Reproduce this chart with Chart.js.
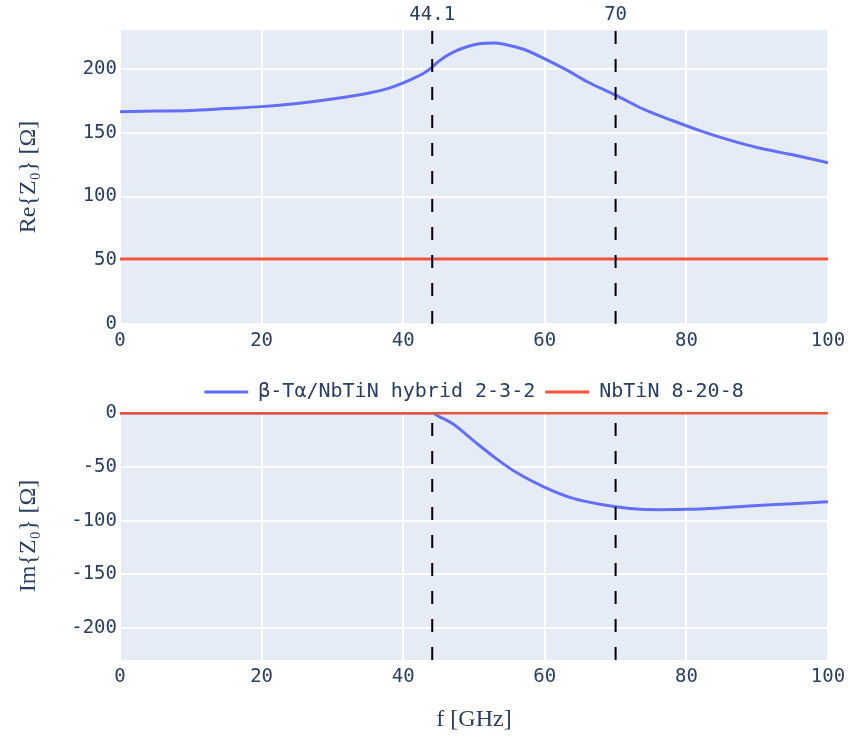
<!DOCTYPE html>
<html>
<head>
<meta charset="utf-8">
<script src="https://cdn.jsdelivr.net/npm/chart.js@4"></script>
<style>
  body { margin: 0; background: #fff; }
  #wrap { position: relative; width: 848px; height: 739px; }
  canvas { position: absolute; left: 0; }
</style>
</head>
<body>
<div id="wrap">
  <canvas id="reChart" width="848" height="370" style="top:0"></canvas>
  <canvas id="imChart" width="848" height="369" style="top:370px"></canvas>
</div>
<script>
// frequency sweep (GHz) and impedance
const freqRe = [0, 5, 10, 15, 20, 25, 30, 35, 38, 41, 43, 44.1, 45, 47, 49, 51, 53, 55, 57, 60, 63, 66, 70, 74, 78, 82, 86, 90, 95, 100];
const reHybrid = [166.5, 167, 167.5, 169, 170.5, 173, 176.5, 181, 185, 191.5, 197, 201.5, 206, 213, 217.5, 220, 220.5, 218.5, 215.5, 208, 199.5, 190, 179.5, 168.3, 159.6, 151.5, 144.4, 138.4, 132.7, 126.5];

const freqIm = [0, 10, 20, 30, 40, 44.1, 45, 47, 50, 53, 56, 60, 64, 68, 72, 76, 80, 85, 90, 95, 100];
const imHybrid = [0, 0, 0, 0, 0, 0, -3, -10, -26, -41.6, -55.3, -69, -79.3, -85, -88.6, -89.8, -89.5, -88, -86, -84.2, -82.4];

const freqFlat = [0, 100];
const reNbTiN = [51, 51];
const imNbTiN = [0, 0];

const markerFreqs = [44.1, 70];
const markerLabels = ['44.1', '70'];

const xTicks = [0, 20, 40, 60, 80, 100];
const reTicks = [0, 50, 100, 150, 200];
const imTicks = [-200, -150, -100, -50, 0];

const reRange = [0, 230.6];
const imRange = [-229.5, 1];

const seriesNames = ['β-Tα/NbTiN hybrid 2-3-2', 'NbTiN 8-20-8'];
const BLUE = '#636efa', RED = '#ef553b', INK = '#2a3f5f';
const monoFont = { family: "'DejaVu Sans Mono', monospace", size: 19 };
const legendFont = { family: "'DejaVu Sans Mono', monospace", size: 20 };
const serifFont = { family: "'Liberation Serif', 'DejaVu Serif', serif", size: 24 };

const toPts = (xs, ys) => xs.map((x, i) => ({ x: x, y: ys[i] }));

const plotBg = {
  id: 'plotBg',
  beforeDraw(chart) {
    const { ctx, chartArea: a } = chart;
    ctx.save();
    ctx.fillStyle = '#e5ecf6';
    ctx.fillRect(a.left, a.top, a.right - a.left, a.bottom - a.top);
    ctx.restore();
  }
};

const markerText = {
  id: 'markerText',
  afterDraw(chart) {
    const ctx = chart.ctx;
    const xs = chart.scales.x;
    ctx.save();
    ctx.font = monoFont.size + 'px ' + monoFont.family;
    ctx.fillStyle = INK;
    ctx.textAlign = 'center';
    ctx.textBaseline = 'middle';
    markerFreqs.forEach((f, i) => ctx.fillText(markerLabels[i], xs.getPixelForValue(f), 15));
    ctx.restore();
  }
};

function markerSets(range) {
  return markerFreqs.map(f => ({
    data: [{ x: f, y: range[0] }, { x: f, y: range[1] }],
    borderColor: '#000', borderWidth: 2, borderDash: [13, 15],
    pointRadius: 0, order: 0, isMarker: true
  }));
}

function curve(label, pts, color, order) {
  return {
    label: label, data: pts, borderColor: color, backgroundColor: color,
    borderWidth: 3, pointRadius: 0, cubicInterpolationMode: 'monotone', order: order
  };
}

function xScale(h) {
  return {
    type: 'linear', min: 0, max: 100,
    afterBuildTicks: s => { s.ticks = xTicks.map(v => ({ value: v })); },
    afterFit: s => { s.height = h; s.paddingRight = 0; s.paddingLeft = 0; },
    grid: { color: '#fff', lineWidth: 2, drawTicks: false },
    border: { display: false },
    ticks: { font: monoFont, color: INK, padding: 6, maxRotation: 0 }
  };
}

function yScale(range, ticks, title) {
  return {
    type: 'linear', min: range[0], max: range[1],
    afterBuildTicks: s => { s.ticks = ticks.map(v => ({ value: v })); },
    afterFit: s => { s.width = 120; },
    grid: { color: '#fff', lineWidth: 2, drawTicks: false },
    border: { display: false },
    ticks: { font: monoFont, color: INK, padding: 3 },
    title: { display: true, text: title, font: serifFont, color: INK, padding: { top: 14, bottom: 0 } }
  };
}

new Chart(document.getElementById('reChart'), {
  type: 'line',
  data: {
    datasets: [
      curve(seriesNames[0], toPts(freqRe, reHybrid), BLUE, 2),
      curve(seriesNames[1], toPts(freqFlat, reNbTiN), RED, 1),
      ...markerSets(reRange)
    ]
  },
  options: {
    responsive: false,
    animation: false,
    layout: { padding: { top: 30, right: 20, left: 0, bottom: 0 } },
    plugins: { legend: { display: false }, tooltip: { enabled: false } },
    scales: {
      x: xScale(46),
      y: yScale(reRange, reTicks, 'Re{Z₀} [Ω]')
    }
  },
  plugins: [plotBg, markerText]
});

const imX = xScale(79);
imX.title = { display: true, text: 'f [GHz]', font: serifFont, color: INK, padding: { top: 0, bottom: 5 } };

new Chart(document.getElementById('imChart'), {
  type: 'line',
  data: {
    datasets: [
      curve(seriesNames[0], toPts(freqIm, imHybrid), BLUE, 2),
      curve(seriesNames[1], toPts(freqFlat, imNbTiN), RED, 1),
      ...markerSets(imRange)
    ]
  },
  options: {
    responsive: false,
    animation: false,
    layout: { padding: { top: 2, right: 20, left: 0, bottom: 0 } },
    plugins: {
      tooltip: { enabled: false },
      legend: {
        position: 'top',
        fullSize: false,
        labels: {
          font: legendFont, color: INK, padding: 10,
          usePointStyle: true, pointStyle: 'line', pointStyleWidth: 44,
          filter: (item, data) => !data.datasets[item.datasetIndex].isMarker,
          sort: (a, b) => a.datasetIndex - b.datasetIndex
        }
      }
    },
    scales: {
      x: imX,
      y: yScale(imRange, imTicks, 'Im{Z₀} [Ω]')
    }
  },
  plugins: [plotBg]
});
</script>
</body>
</html>
